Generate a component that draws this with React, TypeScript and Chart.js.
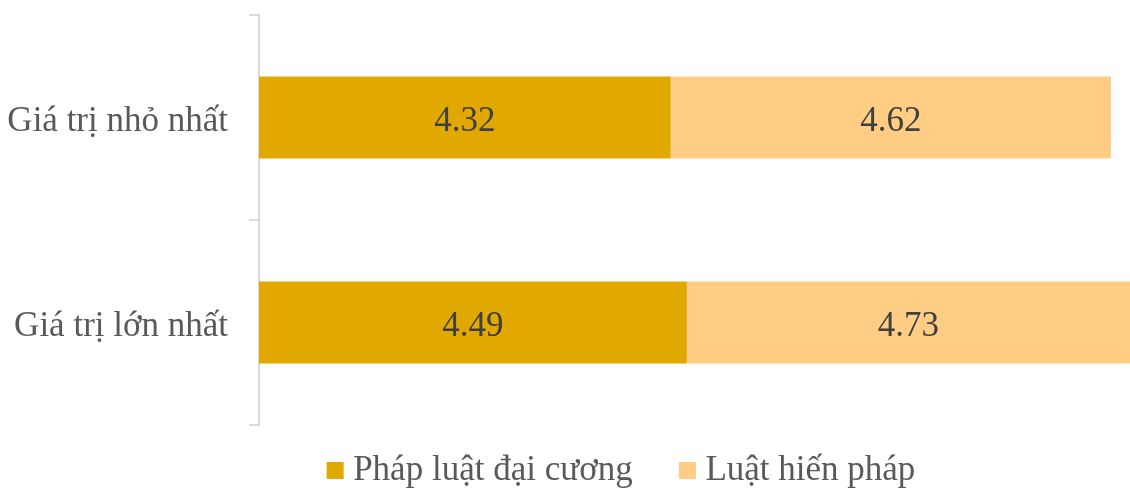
import React, { useEffect, useRef } from "react";
import { Chart, registerables } from "chart.js";

Chart.register(...registerables);

const categories = ["Giá trị nhỏ nhất", "Giá trị lớn nhất"];
const seriesNames = ["Pháp luật đại cương", "Luật hiến pháp"];
const phapLuatDaiCuong = [4.32, 4.49];
const luatHienPhap = [4.62, 4.73];
const colors = ["#E1A900", "#FFCD84"];

const FONT = "'Liberation Serif', 'Times New Roman', serif";

const dataLabelPlugin = {
  id: "dataLabels",
  afterDatasetsDraw(chart: any) {
    const { ctx, chartArea } = chart;
    ctx.save();
    ctx.font = `35px ${FONT}`;
    ctx.fillStyle = "#404040";
    ctx.textAlign = "center";
    ctx.textBaseline = "middle";
    chart.data.datasets.forEach((ds: any, di: number) => {
      const meta = chart.getDatasetMeta(di);
      meta.data.forEach((el: any, i: number) => {
        const x1 = Math.min(el.x, chartArea.right);
        const x0 = Math.max(el.base, chartArea.left);
        const cx = (x0 + x1) / 2;
        ctx.fillText(ds.data[i].toFixed(2), cx, el.y + 4);
      });
    });
    ctx.restore();
  },
};

const legendShiftPlugin = {
  id: "legendShift",
  afterLayout(chart: any) {
    const lg = chart.legend;
    if (lg) {
      lg.left += 60;
      lg.right += 60;
    }
  },
};

export default function App() {
  const ref = useRef<HTMLCanvasElement>(null);
  useEffect(() => {
    const chart = new Chart(ref.current!, {
      type: "bar",
      data: {
        labels: categories,
        datasets: [
          { label: seriesNames[0], data: phapLuatDaiCuong, backgroundColor: colors[0] },
          { label: seriesNames[1], data: luatHienPhap, backgroundColor: colors[1] },
        ],
      },
      options: {
        indexAxis: "y",
        responsive: false,
        animation: false,
        datasets: { bar: { categoryPercentage: 1, barPercentage: 0.4 } },
        layout: { padding: { top: 15, left: 0, right: 0, bottom: -8 } },
        scales: {
          x: { stacked: true, min: 0, max: 9.14, display: false },
          y: {
            stacked: true,
            afterFit: (s: any) => {
              s.width = 259;
              s.paddingTop = 0;
              s.paddingBottom = 0;
            },
            grid: {
              display: true,
              drawOnChartArea: false,
              drawTicks: true,
              tickLength: 10,
              color: "#D9D9D9",
              lineWidth: 2,
              offset: true,
            },
            border: { display: true, color: "#D9D9D9", width: 2 },
            ticks: {
              padding: 21,
              labelOffset: 4,
              color: "#595959",
              font: { family: FONT, size: 35 },
            },
          },
        },
        plugins: {
          legend: {
            position: "bottom",
            labels: {
              usePointStyle: true,
              pointStyle: "rect",
              boxWidth: 1,
              boxHeight: 17,
              padding: 28,
              color: "#595959",
              font: { family: FONT, size: 35 },
              generateLabels: (chart: any) => {
                const items = Chart.defaults.plugins.legend.labels.generateLabels(chart);
                items.forEach((it: any, i: number) => {
                  it.pointStyle = "rect";
                  it.lineWidth = 0;
                  if (i === 0) it.text = it.text + "   ";
                });
                return items;
              },
            },
          },
          tooltip: { enabled: false },
        },
      },
      plugins: [dataLabelPlugin, legendShiftPlugin],
    });
    return () => chart.destroy();
  }, []);
  return (
    <div style={{ position: "fixed", left: 0, top: 0, width: 1130, height: 490, background: "#fff" }}>
      <canvas ref={ref} width={1130} height={490} />
    </div>
  );
}
